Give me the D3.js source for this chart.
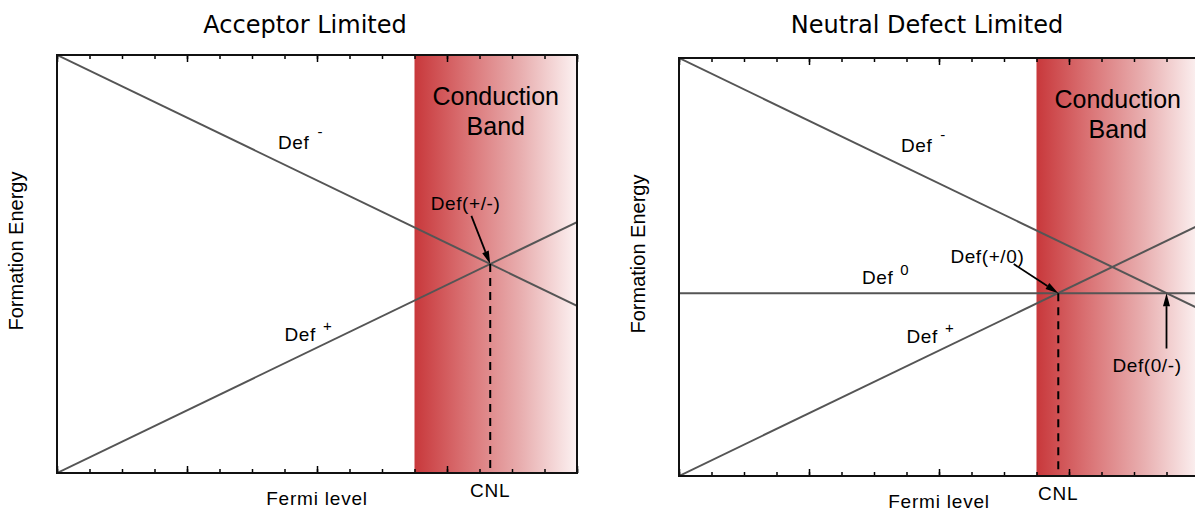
<!DOCTYPE html>
<html>
<head>
<meta charset="utf-8">
<script src="https://cdn.jsdelivr.net/npm/d3@7"></script>
<style>
body{margin:0;background:#fff;}
text{font-family:"Liberation Sans",Arial,sans-serif;fill:#000;}
.title{font-family:"DejaVu Sans",Verdana,sans-serif;font-size:24px;}
</style>
</head>
<body>
<svg id="chart" width="1195" height="514"></svg>
<script>
// fermi level axis runs 0..16 (16 tick intervals), formation energy 0..10
var fermi     = [0, 16];
var defMinus  = [10, 4];
var defPlus   = [0, 6];
var defZero   = [4.375, 4.375];
var bandRange = [11, 16];
var majorTicks = [0, 4, 8, 12, 16];
var minorTicks = [0,1,2,3,4,5,6,7,8,9,10,11,12,13,14,15,16];

// panel 1
var cnlA = 13.33, cnlAE = 5;
// panel 2
var cnlB = 11.67, cnlBE = 4.375;
var zeroMinus = 15;

var w = 520, h = 418;
var svg = d3.select("#chart");

var defs = svg.append("defs");
var grad = defs.append("linearGradient").attr("id","band").attr("x1","0%").attr("x2","100%");
[["0%","#c8383b"],["30%","#d96f71"],["65%","#e8adae"],["100%","#fcf2f2"]].forEach(function(s){
	grad.append("stop").attr("offset",s[0]).attr("stop-color",s[1]);
});

function panel(ox, oy, title, opts){
	var x = d3.scaleLinear().domain(fermi).range([0,w]),
		y = d3.scaleLinear().domain([0,10]).range([h,0]);

	var g = svg.append("g").attr("transform","translate("+ox+","+oy+")");

	var clipId = "clip"+ox;
	defs.append("clipPath").attr("id",clipId)
		.append("rect").attr("width",w).attr("height",h);

	g.append("rect")
		.attr("x",x(bandRange[0])).attr("y",0)
		.attr("width",x(bandRange[1])-x(bandRange[0])).attr("height",h)
		.style("fill","url(#band)");

	var inner = g.append("g").attr("clip-path","url(#"+clipId+")");
	var line = d3.line().x(function(d){return x(d[0]);}).y(function(d){return y(d[1]);});

	var series = [defMinus, defPlus];
	if(opts.zero) series.push(defZero);
	series.forEach(function(s){
		inner.append("path")
			.datum([[fermi[0],s[0]],[fermi[1],s[1]]])
			.attr("d",line)
			.attr("fill","none")
			.attr("stroke","#555")
			.attr("stroke-width",2);
	});

	// CNL dashed
	g.append("line")
		.attr("x1",x(opts.cnl)).attr("x2",x(opts.cnl))
		.attr("y1",y(opts.cnlE)).attr("y2",h)
		.attr("stroke","#000").attr("stroke-width",2)
		.attr("stroke-dasharray","8,6");

	// ticks, inward on top and bottom
	var axes = [
		[d3.axisBottom(x).tickValues(minorTicks).tickSize(-4), h],
		[d3.axisBottom(x).tickValues(majorTicks).tickSize(-7), h],
		[d3.axisTop(x).tickValues(minorTicks).tickSize(-4), 0],
		[d3.axisTop(x).tickValues(majorTicks).tickSize(-7), 0]
	];
	axes.forEach(function(a){
		var ax = g.append("g").attr("transform","translate(0,"+a[1]+")")
			.call(a[0].tickFormat(""));
		ax.select(".domain").remove();
		ax.selectAll("line").attr("stroke","#000").attr("stroke-width",1.5);
	});

	g.append("rect").attr("width",w).attr("height",h)
		.attr("fill","none").attr("stroke","#111").attr("stroke-width",2);

	// titles and axis labels
	svg.append("text").attr("class","title")
		.attr("x",ox+w/2-12).attr("y",33)
		.attr("text-anchor","middle").text(title);

	g.append("text")
		.attr("transform","translate(-34,"+(h/2-13)+")rotate(-90)")
		.attr("text-anchor","middle").style("font-size","20px")
		.text("Formation Energy");

	g.append("text").attr("x",w/2).attr("y",h+32)
		.attr("text-anchor","middle").style("font-size","19px").style("letter-spacing","0.8px")
		.text("Fermi level");

	g.append("text").attr("x",x(opts.cnl)).attr("y",h+24)
		.attr("text-anchor","middle").style("font-size","19px").style("letter-spacing","0.8px")
		.text("CNL");

	var bandMid = (x(bandRange[0])+x(bandRange[1]))/2;
	["Conduction","Band"].forEach(function(t,i){
		g.append("text").attr("x",bandMid).attr("y",50+i*30)
			.attr("text-anchor","middle").style("font-size","25px").text(t);
	});

	// defect labels
	opts.labels.forEach(function(l){
		var t = g.append("text").attr("x",x(l.x)).attr("y",y(l.e))
			.attr("text-anchor",l.anchor||"start")
			.style("font-size","19px").style("letter-spacing","0.6px")
			.text(l.text);
		if(l.sup){
			t.append("tspan").attr("dx",l.supDx).attr("dy",l.supDy)
				.style("font-size","15px").text(l.sup);
		}
	});

	// arrows
	opts.arrows.forEach(function(a){
		var x1 = x(a.from[0]), y1 = y(a.from[1]), x2 = x(a.to[0]), y2 = y(a.to[1]);
		var ang = Math.atan2(y2-y1,x2-x1), L = 13, W = 3.5;
		var bx = x2 - L*Math.cos(ang), by = y2 - L*Math.sin(ang);
		g.append("line").attr("x1",x1).attr("y1",y1).attr("x2",bx).attr("y2",by)
			.attr("stroke","#000").attr("stroke-width",1.8);
		g.append("path")
			.attr("d","M"+x2+","+y2+"L"+(bx+W*Math.sin(ang))+","+(by-W*Math.cos(ang))
				+"L"+(bx-W*Math.sin(ang))+","+(by+W*Math.cos(ang))+"Z")
			.attr("fill","#000");
	});
}

panel(57, 55, "Acceptor Limited", {
	cnl: cnlA, cnlE: cnlAE, zero: false,
	labels: [
		{x:6.8, e:7.75, text:"Def", sup:"-", supDx:8, supDy:-12},
		{x:7.0, e:3.16, text:"Def", sup:"+", supDx:7, supDy:-10},
		{x:11.5, e:6.3, text:"Def(+/-)"}
	],
	arrows: [
		{from:[12.75, 6.15], to:[cnlA, cnlAE]}
	]
});

panel(679, 58, "Neutral Defect Limited", {
	cnl: cnlB, cnlE: cnlBE, zero: true,
	labels: [
		{x:6.83, e:7.75, text:"Def", sup:"-", supDx:8, supDy:-12},
		{x:7.0, e:3.18, text:"Def", sup:"+", supDx:7, supDy:-10},
		{x:5.63, e:4.59, text:"Def", sup:"0", supDx:7, supDy:-9},
		{x:8.35, e:5.1, text:"Def(+/0)"},
		{x:zeroMinus-0.6, e:2.5, text:"Def(0/-)", anchor:"middle"}
	],
	arrows: [
		{from:[10.3, 5.07], to:[cnlB, cnlBE]},
		{from:[zeroMinus, 3.05], to:[zeroMinus, 4.375]}
	]
});
</script>
</body>
</html>
